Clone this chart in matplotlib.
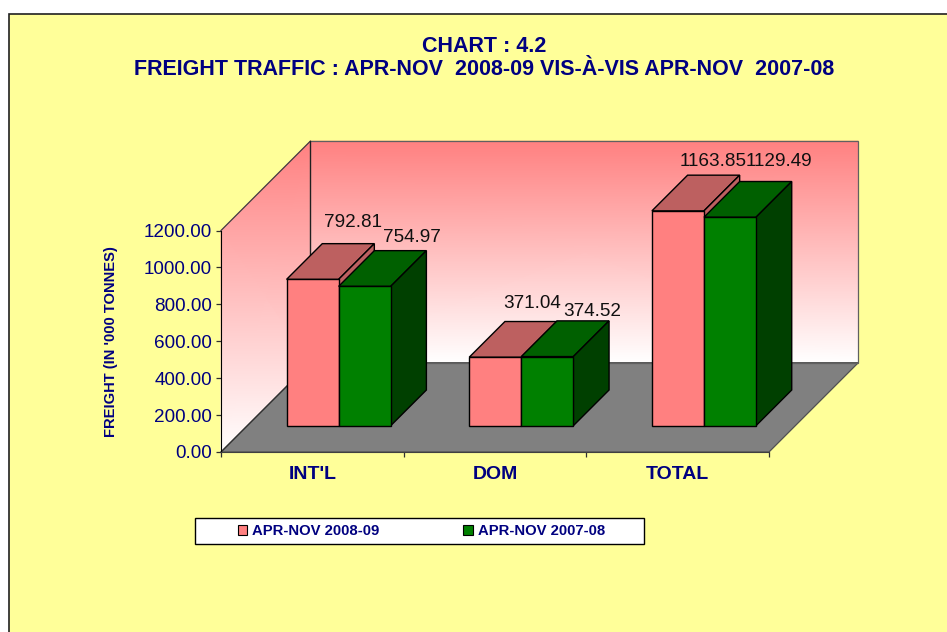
import numpy as np
import matplotlib
matplotlib.use("Agg")
import matplotlib.pyplot as plt
from matplotlib.colors import LinearSegmentedColormap
from matplotlib.patches import Polygon, Rectangle, Patch
from matplotlib.transforms import Affine2D, IdentityTransform

categories = ["INT'L", "DOM", "TOTAL"]
series_2008 = [792.81, 371.04, 1163.85]
series_2007 = [754.97, 374.52, 1129.49]
label_2008 = "APR-NOV 2008-09"
label_2007 = "APR-NOV 2007-08"
y_ticks = [0, 200, 400, 600, 800, 1000, 1200]

NAVY = "#000080"
plt.rcParams["font.family"] = ["Liberation Sans", "DejaVu Sans"]
W, H = 947, 632
fig = plt.figure(figsize=(W / 100, H / 100), dpi=100, facecolor="white")
px = Affine2D().scale(1, -1).translate(0, H)   # reference pixels -> display

fig.add_artist(Rectangle((8.5, 13.5), 960, 640, transform=px, facecolor="#FFFF99",
                         edgecolor="#202020", linewidth=1.2, zorder=-2))

L, R, B, T = 221, 769, 452, 230.5
ax = fig.add_axes([L / W, (H - B) / H, (R - L) / W, (B - T) / H])
ax.patch.set_visible(False)
ax.set_autoscale_on(False)
ax.set_xlim(0, 3)
ax.set_ylim(0, 1200)

DEPTH = 89.3
BAR_D0, BAR_D1 = 26.3, 62.0
BAR_W = 0.285


def pt(x, y, d):
    p = ax.transData.transform((x, y))
    return (p[0] + d, p[1] + d)


def poly(points, color, z, edge="black", lw=1.0):
    ax.add_patch(Polygon(points, closed=True, transform=IdentityTransform(), facecolor=color,
                         edgecolor=edge, linewidth=lw, zorder=z, clip_on=False,
                         joinstyle="miter"))


cmap = LinearSegmentedColormap.from_list("wall", ["#FFFFFF", "#FF8080"], N=512)


def gradient_wall(x0, d0, x1, d1):
    # colour runs straight down the screen, from the wall's highest to its lowest point
    ys = np.array([0, 1200])
    pts = np.array([[pt(x0, y, d0), pt(x1, y, d1)] for y in ys])
    lo, hi = pts[:, :, 1].min(), pts[:, :, 1].max()
    ax.pcolormesh(pts[:, :, 0], pts[:, :, 1], (pts[:, :, 1] - lo) / (hi - lo), cmap=cmap,
                  shading="gouraud", transform=IdentityTransform(), zorder=1,
                  clip_on=False, vmin=0, vmax=1)


gradient_wall(0, DEPTH, 3, DEPTH)                     # back wall
gradient_wall(0, 0, 0, DEPTH)                         # side wall
poly([pt(0, 0, 0), pt(3, 0, 0), pt(3, 0, DEPTH), pt(0, 0, DEPTH)], "#808080", 1.5,
     edge="#505050", lw=0.9)
poly([pt(0, 0, DEPTH), pt(0, 1200, DEPTH), pt(3, 1200, DEPTH), pt(3, 0, DEPTH)], "none", 1.6,
     edge="#606060", lw=0.9)
ax.plot(*zip(pt(0, 1200, 0), pt(0, 1200, DEPTH)), transform=IdentityTransform(), color="#404040",
        lw=0.9, zorder=1.7, clip_on=False)
ax.plot(*zip(pt(0, 0, DEPTH), pt(0, 1200, DEPTH)), transform=IdentityTransform(), color="#202020",
        lw=0.9, zorder=1.7, clip_on=False)
ax.plot(*zip(pt(0, 0, 0), pt(0, 0, DEPTH)), transform=IdentityTransform(), color="#303030",
        lw=0.9, zorder=1.7, clip_on=False)

front_shift = Affine2D().translate(BAR_D0, BAR_D0)
xs = np.arange(3) + 0.5
styles = [(series_2008, -BAR_W / 2, "#FF8080", "#BD6060", "#BD6060"),
          (series_2007, BAR_W / 2, "#008000", "#006000", "#004000")]
z = 3
for vals, off, front, top, side in styles:
    ax.bar(xs + off, vals, BAR_W, color=front, edgecolor="black", linewidth=1.0,
           transform=ax.transData + front_shift, zorder=z + 0.5, clip_on=False)
    for x, v in zip(xs + off, vals):
        a, b = x - BAR_W / 2, x + BAR_W / 2
        poly([pt(a, v, BAR_D0), pt(b, v, BAR_D0), pt(b, v, BAR_D1), pt(a, v, BAR_D1)], top, z)
        poly([pt(b, 0, BAR_D0), pt(b, v, BAR_D0), pt(b, v, BAR_D1), pt(b, 0, BAR_D1)], side, z)
    z += 1

# value labels, placed per bar as in the reference (pixel offsets from the bar's top centre)
offs_2008 = [(40, 57), (37, 54), (35, 49)]
offs_2007 = [(47, 49), (45, 45), (49, 56)]
for vals, off, offs in ((series_2008, -BAR_W / 2, offs_2008), (series_2007, BAR_W / 2, offs_2007)):
    for x, v, (dx, dy) in zip(xs + off, vals, offs):
        p = pt(x, v, BAR_D0)
        ax.text(p[0] + dx, p[1] + dy, f"{v:.2f}", transform=IdentityTransform(), ha="center",
                va="center", fontsize=13.6, color="#101010", zorder=10, clip_on=False)

for s in ("top", "right"):
    ax.spines[s].set_visible(False)
ax.spines["left"].set_color("black")
ax.spines["bottom"].set_color("#404040")
ax.spines["left"].set_zorder(2)
ax.spines["bottom"].set_zorder(2)
ax.set_yticks(y_ticks)
ax.set_yticklabels([f"{v:.2f}" for v in y_ticks], fontsize=13.6, color=NAVY)
ax.set_xticks([0, 1, 2, 3])
ax.set_xticklabels([])
ax.set_xticks(xs, categories, minor=True, fontsize=14, fontweight="bold", color=NAVY)
ax.tick_params(axis="x", which="minor", length=0, pad=10.2)
ax.tick_params(axis="x", which="major", length=3.6, width=0.9, color="#303030")
ax.tick_params(axis="y", length=3.6, width=0.9, pad=3, color="#303030")

fig.text(484, 46, "CHART : 4.2", transform=px, ha="center", va="center", fontsize=15.5,
         fontweight="bold", color=NAVY)
fig.text(484, 69.5, "FREIGHT TRAFFIC : APR-NOV  2008-09 VIS-À-VIS APR-NOV  2007-08", transform=px,
         ha="center", va="center", fontsize=15.5, fontweight="bold", color=NAVY)
fig.text(111, 342, "FREIGHT (IN '000 TONNES)", transform=px, ha="center", va="center",
         rotation=90, fontsize=10.6, fontweight="bold", color=NAVY)

fig.add_artist(Rectangle((194.5, 517.5), 449, 26, transform=px, facecolor="white",
                         edgecolor="black", linewidth=1.0, zorder=-1))
handles = [Patch(facecolor="#FF8080", edgecolor="black", linewidth=0.8, label=label_2008),
           Patch(facecolor="#008000", edgecolor="black", linewidth=0.8, label=label_2007)]
leg = fig.legend(handles=handles, loc="center", bbox_to_anchor=(421.5, 531), bbox_transform=px,
                 ncol=2, frameon=False, prop={"size": 10.75, "weight": "bold"}, labelcolor=NAVY,
                 handlelength=0.62, handleheight=0.62, handletextpad=0.35, columnspacing=5.6,
                 borderpad=0, borderaxespad=0)

fig.savefig("out.png", dpi=100, facecolor="white")
